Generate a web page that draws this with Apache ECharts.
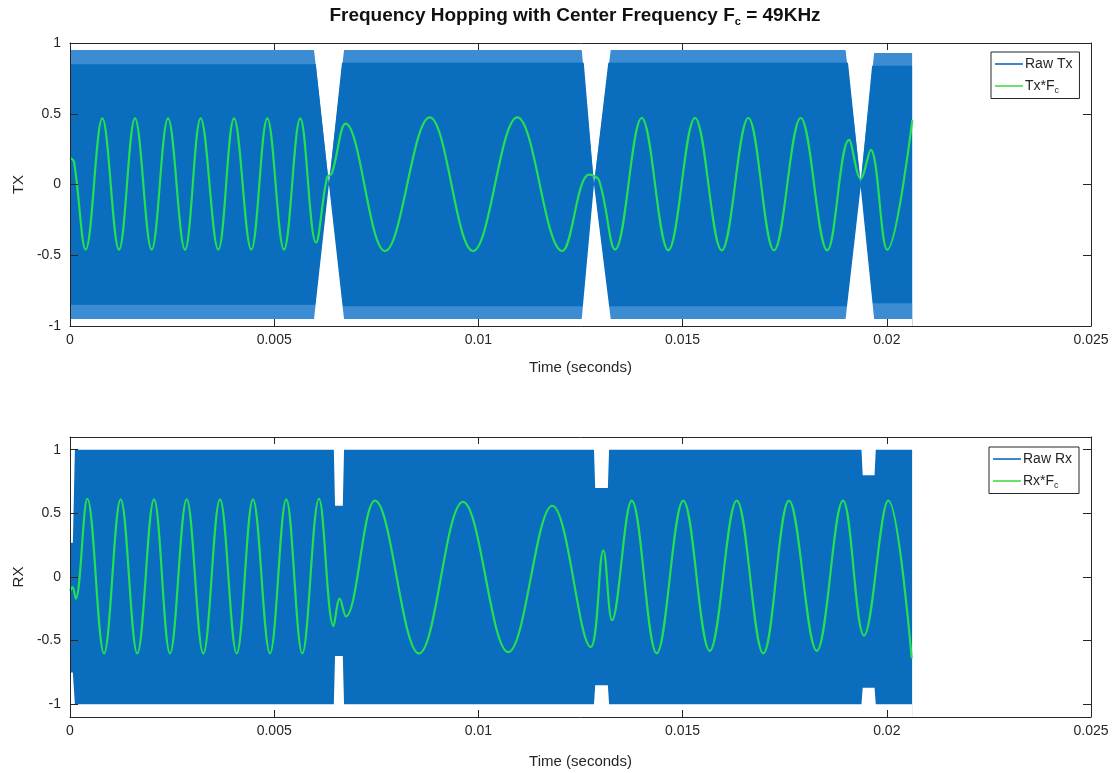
<!DOCTYPE html>
<html><head><meta charset="utf-8">
<script src="https://cdn.jsdelivr.net/npm/echarts@6/dist/echarts.min.js"></script>
<style>html,body{margin:0;padding:0;background:#fff}#c{width:1117px;height:773px}</style>
</head><body><div id="c"></div>
<script>
// ---------- DATA ----------
const yTicks = [-1, -0.5, 0, 0.5, 1];

// Raw Tx: envelope of the dense carrier (outer light fringe and dark core)
const txEnvTime  = [0, 0.005975, 0.00634, 0.00671, 0.01253, 0.01283, 0.01324, 0.01899, 0.01936, 0.01969, 0.02062];
const txEnvUpper = [0.95, 0.95, 0.0, 0.95, 0.95, 0.0, 0.95, 0.95, 0.02, 0.93, 0.93];
const txEnvLower = [-0.95, -0.95, 0.0, -0.95, -0.95, 0.0, -0.95, -0.95, -0.02, -0.95, -0.95];
const txCoreTime  = [0, 0.00602, 0.00634, 0.00666, 0.01258, 0.01283, 0.01318, 0.01905, 0.01936, 0.01964, 0.02062];
const txCoreUpper = [0.85, 0.85, 0.0, 0.86, 0.86, 0.0, 0.86, 0.86, 0.0, 0.84, 0.84];
const txCoreLower = [-0.85, -0.85, 0.0, -0.86, -0.86, 0.0, -0.86, -0.86, 0.0, -0.84, -0.84];

// Tx*Fc (green), extrema and kinks
const txFcTime = [0, 0.000098, 0.000384, 0.000791, 0.0012, 0.001592, 0.002, 0.0024, 0.002816, 0.0032, 0.003631,
  0.004016, 0.004439, 0.004831, 0.00524, 0.005639, 0.006024, 0.006293, 0.006415, 0.006746, 0.007713, 0.008808,
  0.009868, 0.010953, 0.012054, 0.012708, 0.012953, 0.013345, 0.013999, 0.01465, 0.015304, 0.015958, 0.016609,
  0.017238, 0.017892, 0.018543, 0.019075, 0.019361, 0.019606, 0.020012, 0.020625];
const txFcValue = [0.19, 0.16, -0.46, 0.467, -0.46, 0.467, -0.46, 0.467, -0.46, 0.467, -0.46,
  0.467, -0.46, 0.467, -0.46, 0.467, -0.41, 0.05, 0.08, 0.43, -0.47, 0.475,
  -0.47, 0.475, -0.47, 0.07, 0.03, -0.46, 0.47, -0.465, 0.47, -0.465, 0.47,
  -0.465, 0.47, -0.465, 0.315, 0.04, 0.245, -0.46, 0.455];

// Raw Rx: envelope
const rxEnvTime  = [0, 0.00007, 0.00012, 0.00646, 0.00649, 0.00668, 0.00671, 0.01283, 0.01286, 0.01317, 0.0132, 0.01938, 0.01941, 0.0197, 0.01973, 0.02062];
const rxEnvUpper = [0.27, 0.27, 1.0, 1.0, 0.56, 0.56, 1.0, 1.0, 0.7, 0.7, 1.0, 1.0, 0.8, 0.8, 1.0, 1.0];
const rxEnvLower = [-0.75, -0.75, -1.0, -1.0, -0.62, -0.62, -1.0, -1.0, -0.85, -0.85, -1.0, -1.0, -0.87, -0.87, -1.0, -1.0];

// Rx*Fc (green)
const rxFcTime = [0, 0.000061, 0.00014, 0.000424, 0.000833, 0.001241, 0.001648, 0.002057, 0.002449, 0.002858, 0.003264,
  0.003673, 0.004082, 0.004481, 0.004897, 0.005296, 0.005688, 0.006097, 0.006452, 0.006604, 0.006751, 0.007468,
  0.008546, 0.009623, 0.010732, 0.01181, 0.01275, 0.013059, 0.013271, 0.013754, 0.014366, 0.015017, 0.015664,
  0.016325, 0.016976, 0.017605, 0.018284, 0.018928, 0.019442, 0.020037, 0.02061];
const rxFcValue = [-0.11, -0.08, -0.17, 0.615, -0.6, 0.61, -0.6, 0.61, -0.6, 0.61, -0.6,
  0.61, -0.6, 0.61, -0.6, 0.61, -0.6, 0.615, -0.385, -0.17, -0.31, 0.6,
  -0.6, 0.59, -0.59, 0.56, -0.55, 0.21, -0.34, 0.6, -0.6, 0.6, -0.58,
  0.6, -0.6, 0.6, -0.58, 0.6, -0.46, 0.6, -0.64];

// ---------- CHART ----------
const FONT = 'Liberation Sans, Arial, sans-serif';
const INK = '#262626';
const BLUE = '#0a6dbd', FRINGE = '#3b8cd2', GREEN = '#22e052';
const zip = (a, b) => a.map((t, i) => [t, b[i]]);

function xAxes(grid, name, gap) {
  const common = { gridIndex: grid, type: 'value', min: 0, max: 0.025, interval: 0.005, z: 4,
    splitLine: { show: false }, axisLine: { show: true, onZero: false, lineStyle: { color: INK, width: 1 } },
    axisTick: { inside: true, length: 7, lineStyle: { color: INK } } };
  return [
    Object.assign({}, common, { position: 'bottom',
      axisLabel: { color: INK, fontSize: 14, fontFamily: FONT, margin: 7 },
      name: name, nameLocation: 'middle', nameGap: gap,
      nameTextStyle: { color: INK, fontSize: 15, fontFamily: FONT } }),
    Object.assign({}, common, { position: 'top', axisLabel: { show: false } })
  ];
}
function yAxes(grid, lim, name) {
  const common = { gridIndex: grid, type: 'value', min: -lim, max: lim, z: 4,
    splitLine: { show: false }, axisLine: { show: true, onZero: false, lineStyle: { color: INK, width: 1 } },
    axisTick: { inside: true, length: 8, customValues: yTicks, lineStyle: { color: INK } } };
  return [
    Object.assign({}, common, { position: 'left',
      axisLabel: { color: INK, fontSize: 14, fontFamily: FONT, margin: 9, customValues: yTicks },
      name: name, nameLocation: 'middle', nameGap: 44,
      nameTextStyle: { color: INK, fontSize: 15, fontFamily: FONT } }),
    Object.assign({}, common, { position: 'right', axisLabel: { show: false } })
  ];
}
// area filled from the bottom of the axis up to the given envelope line
function band(name, xi, yi, data, color, z) {
  return { name: name, type: 'line', xAxisIndex: xi, yAxisIndex: yi, data: data, symbol: 'none',
    lineStyle: { width: 0, color: color }, itemStyle: { color: color },
    areaStyle: { color: color, opacity: 1, origin: 'start' }, silent: true, z: z };
}
function curve(name, xi, yi, data) {
  return { name: name, type: 'line', xAxisIndex: xi, yAxisIndex: yi, data: data, symbol: 'none',
    smooth: 0.38, lineStyle: { width: 2.2, color: GREEN }, itemStyle: { color: GREEN }, silent: true, z: 3 };
}
const legendRich = { n: { fontSize: 14, fontFamily: FONT, color: INK },
  s: { fontSize: 9, fontFamily: FONT, color: INK, padding: [10, 0, 0, 0] } };
function legend(top, left, names) {
  return { top: top, left: left, orient: 'vertical', itemWidth: 28, itemHeight: 2, itemGap: 8,
    backgroundColor: '#fff', borderColor: INK, borderWidth: 1, borderRadius: 0, padding: [5, 7, 3, 4],
    data: [ { name: names[0], icon: 'rect', itemStyle: { color: '#3d87c9' } },
            { name: names[1], icon: 'rect', itemStyle: { color: '#6be36b' } } ],
    formatter: n => n.indexOf('*') > 0 ? '{n|' + n.slice(0, -1) + '}{s|c}' : '{n|' + n + '}',
    textStyle: { rich: legendRich, padding: [0, 0, 0, -3] } };
}

const option = {
  animation: false,
  backgroundColor: '#fff',
  grid: [
    { left: 70, right: 26, top: 43, height: 283 },
    { left: 70, right: 26, top: 437, height: 280 }
  ],
  xAxis: [].concat(xAxes(0, 'Time (seconds)', 34), xAxes(1, 'Time (seconds)', 37)),
  yAxis: [].concat(yAxes(0, 1, 'TX'), yAxes(1, 1.1, 'RX')),
  legend: [ legend(52, 991, ['Raw Tx', 'Tx*Fc']), legend(447, 989, ['Raw Rx', 'Rx*Fc']) ],
  graphic: [{
    type: 'text', x: 575, y: 16, silent: true,
    style: { text: '{a|Frequency Hopping with Center Frequency F}{s|c}{a| = 49KHz}', align: 'center', verticalAlign: 'middle',
      rich: { a: { fontSize: 19, fontWeight: 'bold', fontFamily: FONT, fill: '#111' },
              s: { fontSize: 11, fontWeight: 'bold', fontFamily: FONT, fill: '#111', padding: [12, 0, 0, 0] } } }
  }],
  series: [
    band('Raw Tx', 0, 0, zip(txEnvTime, txEnvUpper), FRINGE, 1),
    band('Raw Tx', 0, 0, zip(txCoreTime, txCoreUpper), BLUE, 1),
    band('Raw Tx', 0, 0, zip(txCoreTime, txCoreLower), FRINGE, 1),
    band('Raw Tx', 0, 0, zip(txEnvTime, txEnvLower), '#ffffff', 1),
    curve('Tx*Fc', 0, 0, zip(txFcTime, txFcValue)),
    band('Raw Rx', 2, 2, zip(rxEnvTime, rxEnvUpper), BLUE, 1),
    band('Raw Rx', 2, 2, zip(rxEnvTime, rxEnvLower), '#ffffff', 1),
    curve('Rx*Fc', 2, 2, zip(rxFcTime, rxFcValue))
  ]
};
const chart = echarts.init(document.getElementById('c'));
chart.setOption(option);
</script></body></html>
